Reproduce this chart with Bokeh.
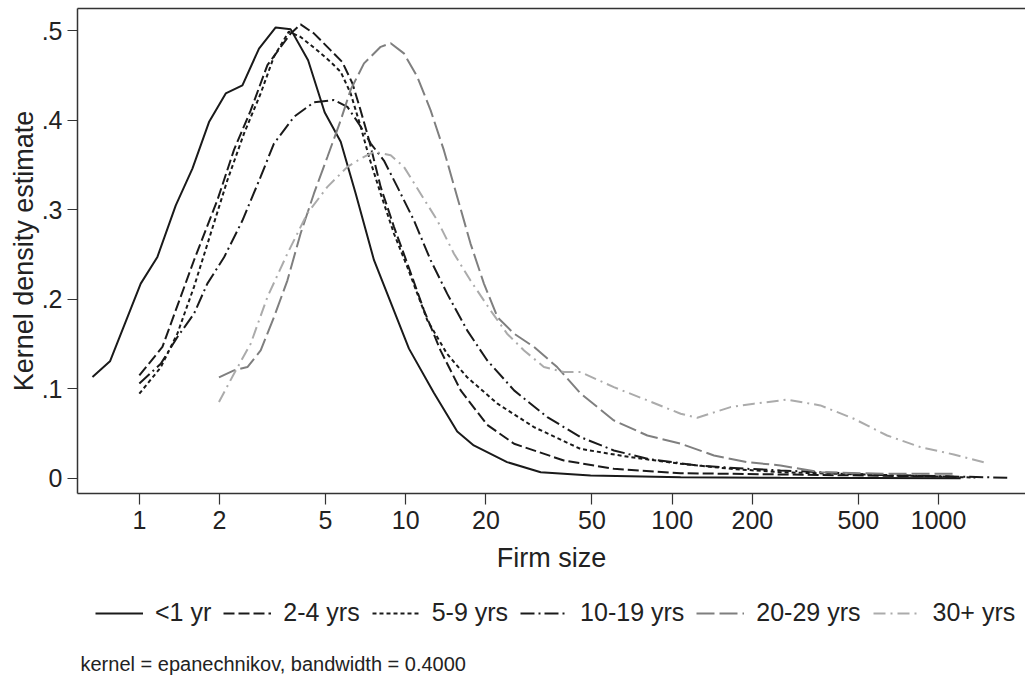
from bokeh.plotting import figure
from bokeh.layouts import column
from bokeh.models import (Range1d, FixedTicker, CustomJSTickFormatter, Legend,
                          LegendItem, LogAxis, Label)
from bokeh.embed import file_html
from bokeh.resources import INLINE

FONT = "Liberation Sans"
TXT = "#222222"

# ---- data (firm size, kernel density) ----
size_lt1 = [0.667, 0.776, 1.012, 1.169, 1.37, 1.582, 1.826, 2.11, 2.437, 2.813, 3.25, 3.70,
            4.30, 4.96, 5.70, 6.49, 7.60, 10.28, 12.76, 15.6, 18.0, 24.0, 32.1, 49.4, 107.6,
            255, 1210]
dens_lt1 = [0.1132, 0.1308, 0.2176, 0.2474, 0.305, 0.346, 0.398, 0.430, 0.439, 0.480, 0.5037,
            0.5015, 0.467, 0.409, 0.376, 0.318, 0.2437, 0.145, 0.0954, 0.0525, 0.0369, 0.0183,
            0.0070, 0.0034, 0.0015, 0.0008, 0.0003]

size_2_4 = [1.0, 1.221, 1.604, 1.964, 2.266, 2.618, 3.025, 3.70, 4.03, 4.52, 5.23, 5.78, 6.31,
            6.77, 7.28, 8.05, 9.03, 10.14, 11.7, 13.5, 16.1, 20.2, 25.5, 39.2, 60.4, 107.6,
            255, 1157]
dens_2_4 = [0.115, 0.147, 0.2437, 0.311, 0.367, 0.411, 0.4616, 0.497, 0.507, 0.497, 0.478,
            0.465, 0.441, 0.411, 0.378, 0.3256, 0.281, 0.240, 0.188, 0.143, 0.098, 0.060,
            0.0388, 0.0201, 0.0108, 0.0059, 0.0045, 0.002]

size_5_9 = [1.0, 1.203, 1.39, 1.604, 1.853, 2.14, 2.47, 2.854, 3.20, 3.64, 4.03, 4.66, 5.23,
            5.70, 6.21, 6.77, 7.28, 8.05, 9.03, 10.14, 12.05, 14.3, 17.0, 22.1, 30.3, 45.3,
            69.8, 107.6, 165.6, 255, 1374]
dens_5_9 = [0.0947, 0.124, 0.162, 0.214, 0.2735, 0.333, 0.385, 0.43, 0.471, 0.499, 0.493,
            0.478, 0.465, 0.454, 0.43, 0.393, 0.359, 0.318, 0.2735, 0.236, 0.1766, 0.139,
            0.113, 0.0835, 0.0573, 0.033, 0.0238, 0.0164, 0.0108, 0.007, 0.001]

size_10_19 = [1.0, 1.203, 1.39, 1.604, 1.80, 2.08, 2.437, 2.854, 3.20, 3.81, 4.52, 5.38, 6.04,
              6.77, 7.39, 8.28, 9.30, 10.74, 12.4, 14.3, 17.0, 20.2, 25.5, 34.0, 45.3, 60.4,
              80.7, 124.2, 191.3, 255, 605, 1845]
dens_10_19 = [0.106, 0.128, 0.158, 0.184, 0.2176, 0.247, 0.288, 0.337, 0.374, 0.404, 0.42,
              0.4225, 0.415, 0.393, 0.374, 0.355, 0.3256, 0.288, 0.2437, 0.2064, 0.1654, 0.132,
              0.0984, 0.0685, 0.0462, 0.0313, 0.022, 0.0145, 0.0108, 0.009, 0.004, 0.0008]

size_20_29 = [1.99, 2.266, 2.545, 2.854, 3.20, 3.594, 4.03, 4.52, 5.08, 5.70, 6.21, 6.97,
              8.05, 8.78, 9.84, 11.05, 12.4, 13.9, 15.6, 17.5, 19.65, 22.1, 25.5, 30.3, 37.0,
              45.3, 60.4, 80.7, 107.6, 143.5, 191.3, 255, 360, 641, 1157]
dens_20_29 = [0.113, 0.1207, 0.1244, 0.143, 0.180, 0.221, 0.2735, 0.318, 0.359, 0.400, 0.434,
              0.4635, 0.482, 0.486, 0.4747, 0.4485, 0.411, 0.3666, 0.3144, 0.2623, 0.2176,
              0.180, 0.1617, 0.1468, 0.1244, 0.095, 0.0648, 0.048, 0.0388, 0.0257, 0.0182,
              0.0145, 0.007, 0.0053, 0.0053]

size_30p = [1.99, 2.266, 2.618, 3.025, 3.594, 4.27, 5.08, 6.04, 6.77, 7.60, 8.78, 9.84, 11.37,
            13.14, 15.17, 17.5, 20.8, 24.0, 27.8, 33.0, 39.2, 45.3, 60.4, 80.7, 107.6, 124.2,
            165.6, 202.6, 270, 360, 481, 641, 855, 1140, 1522]
dens_30p = [0.0853, 0.117, 0.1505, 0.2026, 0.251, 0.296, 0.3256, 0.348, 0.357, 0.365, 0.361,
            0.348, 0.318, 0.288, 0.251, 0.221, 0.1878, 0.1617, 0.143, 0.1244, 0.1188, 0.1188,
            0.102, 0.0872, 0.0723, 0.0678, 0.0797, 0.0835, 0.088, 0.0816, 0.0667, 0.048,
            0.035, 0.0268, 0.0171]

series_labels = ["<1 yr", "2-4 yrs", "5-9 yrs", "10-19 yrs", "20-29 yrs", "30+ yrs"]
series_x = [size_lt1, size_2_4, size_5_9, size_10_19, size_20_29, size_30p]
series_y = [dens_lt1, dens_2_4, dens_5_9, dens_10_19, dens_20_29, dens_30p]
colors = ["#1a1a1a", "#1a1a1a", "#1a1a1a", "#1a1a1a", "#7f7f7f", "#ababab"]
dashes = ["solid", "11 4", "4 3", "14 4 2 4", "18 5", "12 5 2 5"]

x_ticks = [1, 2, 5, 10, 20, 50, 100, 200, 500, 1000]
y_ticks = [0, 0.1, 0.2, 0.3, 0.4, 0.5]

W = 1025
H1 = 578
H2 = 97

p = figure(width=W, height=H1, x_axis_type="log",
           x_range=Range1d(0.586, 2119), y_range=Range1d(-0.01677, 0.5248),
           output_backend="svg", toolbar_location=None,
           min_border_top=8, min_border_right=0, min_border_left=77, min_border_bottom=85)
p.background_fill_color = "white"
p.border_fill_color = "white"
p.outline_line_color = None
p.xgrid.grid_line_color = None
p.ygrid.grid_line_color = None

for xs, ys, col, dash in zip(series_x, series_y, colors, dashes):
    p.line(xs, ys, line_color=col, line_width=2, line_dash=dash)

for ax in (p.xaxis[0], p.yaxis[0]):
    ax.axis_line_color = "#333333"
    ax.axis_line_width = 1.5
    ax.major_tick_line_color = "#333333"
    ax.major_tick_line_width = 1.2
    ax.major_tick_in = 0
    ax.minor_tick_line_color = None
    ax.major_label_text_font = FONT
    ax.major_label_text_font_size = "25px"
    ax.major_label_text_color = TXT
    ax.axis_label_text_font = FONT
    ax.axis_label_text_font_size = "27px"
    ax.axis_label_text_font_style = "normal"
    ax.axis_label_text_color = TXT

p.xaxis.ticker = FixedTicker(ticks=x_ticks)
p.xaxis.formatter = CustomJSTickFormatter(code="return tick.toFixed(0);")
p.xaxis.major_tick_out = 11
p.xaxis.major_label_standoff = 6
p.xaxis.axis_label = "Firm size"
p.xaxis.axis_label_standoff = 11

p.yaxis.ticker = FixedTicker(ticks=y_ticks)
p.yaxis.formatter = CustomJSTickFormatter(
    code="return tick == 0 ? '0' : tick.toFixed(1).replace(/^0/, '');")
p.yaxis.major_tick_out = 10
p.yaxis.major_label_standoff = 5
p.yaxis.axis_label = "Kernel density estimate"
p.yaxis.axis_label_standoff = 0

top = LogAxis(ticker=FixedTicker(ticks=[]), axis_line_color="#333333", axis_line_width=1.5,
              major_tick_line_color=None, minor_tick_line_color=None,
              major_label_text_font_size="0px", major_label_standoff=0)
p.add_layout(top, "above")

# ---- legend + note strip (legend proxies use the same series, kept out of view) ----
p2 = figure(width=W, height=H2, x_range=Range1d(0, W), y_range=Range1d(1000, 1000 + H2),
            output_backend="svg", toolbar_location=None,
            x_axis_location=None, y_axis_location=None,
            min_border_top=0, min_border_right=0, min_border_left=0, min_border_bottom=0)
p2.outline_line_color = None
p2.xgrid.grid_line_color = None
p2.ygrid.grid_line_color = None
items = []
for lab, xs, ys, col, dash in zip(series_labels, series_x, series_y, colors, dashes):
    r = p2.line(xs, ys, line_color=col, line_width=2, line_dash=dash)
    items.append(LegendItem(label=lab, renderers=[r]))

legend = Legend(items=items, orientation="horizontal", location=(18, 48),
                glyph_width=48, glyph_height=20, label_standoff=12, spacing=12,
                padding=0, margin=0, border_line_color=None, background_fill_alpha=0,
                label_text_font=FONT, label_text_font_size="25px", label_text_color=TXT)
p2.add_layout(legend)

note = Label(x=3, y=12, x_units="screen", y_units="screen",
             text="kernel = epanechnikov, bandwidth = 0.4000", text_baseline="middle",
             text_font=FONT, text_font_size="20px", text_color=TXT)
p2.add_layout(note)

layout = column(p, p2, spacing=0)
open("out.html", "w").write(file_html(layout, INLINE))
